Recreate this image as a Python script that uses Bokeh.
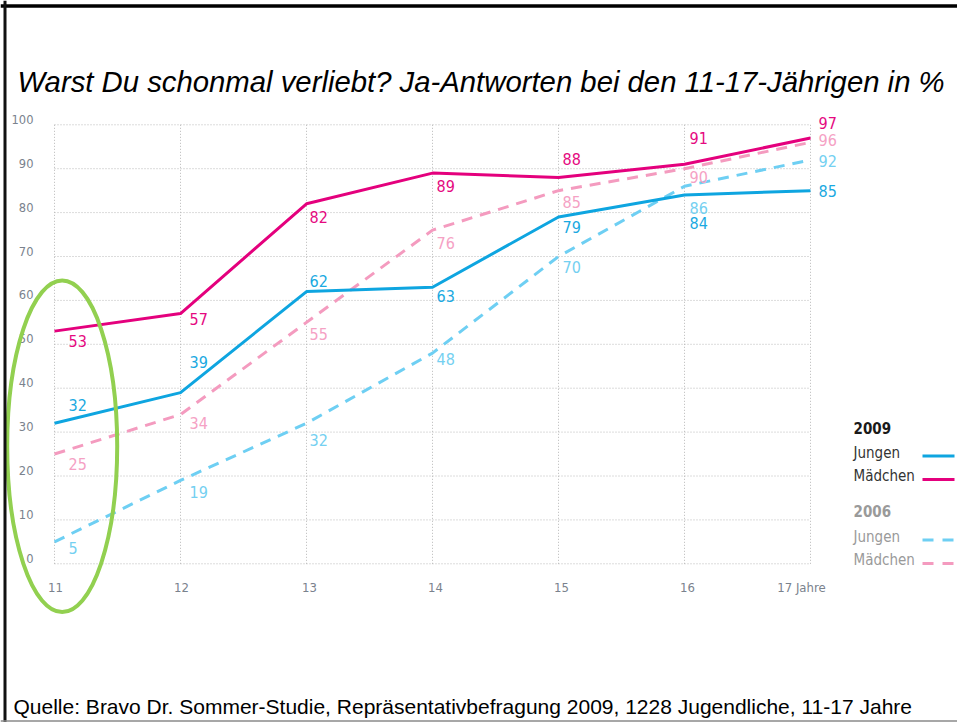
from bokeh.plotting import figure
from bokeh.models import ColumnDataSource, Span, Range1d
from bokeh.core.properties import value
from bokeh.embed import file_html
from bokeh.resources import INLINE

# ---------------- data ----------------
ages = [11, 12, 13, 14, 15, 16, 17]
age_labels = ["11", "12", "13", "14", "15", "16", "17 Jahre"]
y_ticks = [0, 10, 20, 30, 40, 50, 60, 70, 80, 90, 100]
jungen_2009 = [32, 39, 62, 63, 79, 84, 85]
maedchen_2009 = [53, 57, 82, 89, 88, 91, 97]
jungen_2006 = [5, 19, 32, 48, 70, 86, 92]
maedchen_2006 = [25, 34, 55, 76, 85, 90, 96]
title_text = "Warst Du schonmal verliebt? Ja-Antworten bei den 11-17-Jährigen in %"
source_text = ("Quelle: Bravo Dr. Sommer-Studie, Repräsentativbefragung 2009, "
               "1228 Jugendliche, 11-17 Jahre")
legend_years = ["2009", "2006"]
legend_names = ["Jungen", "Mädchen"]

# ---------------- layout / styles ----------------
W, H = 957, 722
PX_PER_X = 126.0
PX_PER_Y = 4.39
X11_PX = 54.0
Y0_PX = 563.3
x_start = 11 - X11_PX / PX_PER_X
x_end = x_start + W / PX_PER_X
y_end = Y0_PX / PX_PER_Y
y_start = y_end - H / PX_PER_Y


def fx(px):  # canvas pixel -> data x
    return x_start + px / PX_PER_X


def fy(py):  # canvas pixel -> data y
    return y_end - py / PX_PER_Y


NARROW = value("DejaVu Sans Condensed, Roboto, sans-serif")
C_J09, C_M09 = "#0ea5e0", "#e4007d"
C_J06, C_M06 = "#6ecff3", "#f49bbf"
L_J09, L_M09 = "#1aa9e1", "#e5097f"
L_J06, L_M06 = "#74d0f1", "#f5a1c4"
TICK_COLOR = "#7a828d"
GRID_COLOR = "#b8b8b8"
DASH = "11 8"

label_dx = [14, 9, 3, 4, 4, 5, 8]
dy_m09 = [10, 5, 13, 13, -18, -26, -15]
dy_j09 = [-18, -31, -11, 9, 10, 28, 0]
dy_m06 = [10, 8, 12, 13, 11, 8, -2]
dy_j06 = [6, 12, 17, 6, 10, 22, 1]
xtick_dx = [1, 1, 3, 3, 3, 3, -9]

p = figure(width=W, height=H, x_range=Range1d(x_start, x_end),
           y_range=Range1d(y_start, y_end), x_axis_type=None, y_axis_type=None,
           toolbar_location=None, output_backend="svg", min_border=0,
           outline_line_color=None, background_fill_color="white",
           border_fill_color="white")

# grid
p.segment(x0=[ages[0]] * len(y_ticks), y0=y_ticks, x1=[ages[-1]] * len(y_ticks),
          y1=y_ticks, line_color=GRID_COLOR, line_dash="1 2", line_width=1)
p.segment(x0=ages, y0=[y_ticks[0]] * len(ages), x1=ages,
          y1=[y_ticks[-1]] * len(ages), line_color=GRID_COLOR,
          line_dash="1 2", line_width=1)

# series lines
p.line(ages, maedchen_2006, line_color=C_M06, line_width=3, line_dash=DASH)
p.line(ages, jungen_2006, line_color=C_J06, line_width=3, line_dash=DASH)
p.line(ages, jungen_2009, line_color=C_J09, line_width=3, line_join="round")
p.line(ages, maedchen_2009, line_color=C_M09, line_width=3, line_join="round")

# value labels
for vals, dys, col in [(maedchen_2009, dy_m09, L_M09), (jungen_2009, dy_j09, L_J09),
                       (maedchen_2006, dy_m06, L_M06), (jungen_2006, dy_j06, L_J06)]:
    src = ColumnDataSource(dict(x=ages, y=vals, t=[str(v) for v in vals],
                                xo=label_dx, yo=dys))
    p.text(x="x", y="y", text="t", x_offset="xo", y_offset="yo", source=src,
           text_align="left", text_baseline="middle", text_font=NARROW,
           text_font_size="16px", text_color=col)

# tick labels
p.text(x=[ages[0]] * len(y_ticks), y=y_ticks, text=[str(t) for t in y_ticks],
       x_offset=-21, y_offset=-5.5, text_align="right", text_baseline="middle",
       text_font=value("DejaVu Sans"), text_font_size="11.5px",
       text_color=TICK_COLOR)
xsrc = ColumnDataSource(dict(x=ages, y=[0] * len(ages), t=age_labels, xo=xtick_dx))
p.text(x="x", y="y", text="t", x_offset="xo", y_offset=24, source=xsrc,
       text_align="center", text_baseline="middle", text_font=NARROW,
       text_font_size="13px", text_color=TICK_COLOR)

# title and source
p.text(x=[fx(17)], y=[fy(81)], text=[title_text], text_align="left",
       text_baseline="middle", text_font=value("Liberation Sans"),
       text_font_style="italic", text_font_size="29.3px", text_color="black")
p.text(x=[fx(13)], y=[fy(705.5)], text=[source_text], text_align="left",
       text_baseline="middle", text_font=value("Liberation Sans"),
       text_font_size="21px", text_color="black")

# legend (custom: labels left, line samples right)
p.text(x=[fx(853)], y=[fy(427)], text=[legend_years[0]], text_align="left",
       text_baseline="middle", text_font=NARROW, text_font_style="bold",
       text_font_size="15px", text_color="#1a1a1a")
p.text(x=[fx(853)] * 2, y=[fy(452), fy(475)], text=legend_names, text_align="left",
       text_baseline="middle", text_font=NARROW, text_font_size="15px",
       text_color="#333333")
p.text(x=[fx(853)], y=[fy(510.5)], text=[legend_years[1]], text_align="left",
       text_baseline="middle", text_font=NARROW, text_font_style="bold",
       text_font_size="15px", text_color="#9a9a9a")
p.text(x=[fx(853)] * 2, y=[fy(536.5), fy(559)], text=legend_names, text_align="left",
       text_baseline="middle", text_font=NARROW, text_font_size="15px",
       text_color="#9a9a9a")
p.segment(x0=[fx(922)], y0=[fy(455.5)], x1=[fx(954)], y1=[fy(455.5)],
          line_color=C_J09, line_width=3)
p.segment(x0=[fx(922)], y0=[fy(479)], x1=[fx(954)], y1=[fy(479)],
          line_color=C_M09, line_width=3)
p.segment(x0=[fx(922)], y0=[fy(539.5)], x1=[fx(954)], y1=[fy(539.5)],
          line_color=C_J06, line_width=3, line_dash="11 9")
p.segment(x0=[fx(922)], y0=[fy(563)], x1=[fx(954)], y1=[fy(563)],
          line_color=C_M06, line_width=3, line_dash="11 9")

# green highlight ellipse around age 11
p.ellipse(x=[fx(61.7)], y=[fy(445.8)], width=110 / PX_PER_X, height=331.7 / PX_PER_Y,
          fill_color=None, line_color="#92d050", line_width=4)

# slide border (top, left, bottom)
p.add_layout(Span(location=fy(5.5), dimension="width", line_color="black", line_width=3.5))
p.add_layout(Span(location=fx(4.5), dimension="height", line_color="#111111", line_width=3))
p.add_layout(Span(location=fy(720.5), dimension="width", line_color="#8a8a8a", line_width=1.5))

open("out.html", "w").write(file_html(p, INLINE))
